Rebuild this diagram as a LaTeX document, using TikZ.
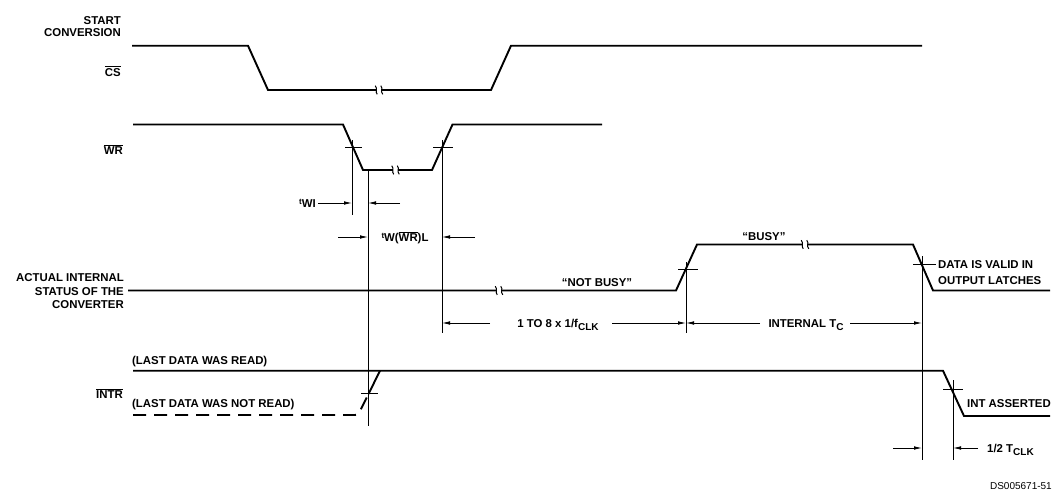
\documentclass[tikz,border=0pt]{standalone}
\usepackage{fontspec}
\setmainfont{Liberation Sans}
\usetikzlibrary{arrows.meta}
\tikzset{
  sig/.style={line width=1.9pt},
  refl/.style={line width=0.8pt},
  dimarrow/.style={line width=0.8pt,-{Latex[length=8pt,width=3.6pt]}},
  lbl/.style={font=\fontsize{11.4}{13}\selectfont\bfseries, inner sep=0pt},
  lblr/.style={lbl,anchor=base east},
  lbll/.style={lbl,anchor=base west},
  lblc/.style={lbl,anchor=base},
  brk/.pic={
    \fill[white] (-2.8,-5) rectangle (2.8,5);
    \draw[line width=1pt] (-3.8,-4.3) .. controls (-1.2,-1.6) and (-4.2,1.6) .. (-1.8,4.3);
    \draw[line width=1pt] (1.8,-4.3) .. controls (4.2,-1.6) and (1.2,1.6) .. (3.8,4.3);
  }
}
\newcommand{\ovl}[1]{$\overline{\mbox{#1}}$}
\newcommand{\smt}{\raisebox{2.4pt}{\fontsize{8}{9}\selectfont t}}
\newcommand{\subl}[1]{\raisebox{-3pt}{\fontsize{10}{11}\selectfont #1}}
\begin{document}
\begin{tikzpicture}[x=1pt,y=-1pt]
\useasboundingbox (0,0) rectangle (1062,498);

% ---------- signal names ----------
\node[lblr] (start) at (121,24) {START};
\node[lblr] (conv) at (121,36) {CONVERSION};
\node[lblr] (cs) at (121,76) {\ovl{CS}};
\node[lblr] (wr) at (123,154) {\ovl{WR}};
\node[lblr] (actual) at (124,281) {ACTUAL INTERNAL};
\node[lblr] (statusof) at (124,295) {STATUS OF THE};
\node[lblr] (converter) at (124,308) {CONVERTER};
\node[lbll] (wasread) at (132,364) {(LAST DATA WAS READ)};
\node[lblr] (intr) at (123,398) {\ovl{INTR}};
\node[lbll] (notread) at (132,407) {(LAST DATA WAS NOT READ)};

% ---------- CS ----------
\draw[sig] (132,45.7) -- (248,45.7) -- (268,90) -- (491,90) -- (511,45.7) -- (922,45.7);
\path (379,90) pic {brk};

% ---------- WR ----------
\draw[sig] (133,124.5) -- (343,124.5) -- (363,170) -- (432,170) -- (452.5,124.5) -- (602,124.5);
\path (395.5,170) pic {brk};

% ---------- status ----------
\draw[sig] (128,290.5) -- (676,290.5) -- (697,244.5) -- (913,244.5) -- (933,290.5) -- (1050,290.5);
\path (499,290.5) pic {brk};
\path (805,244.5) pic {brk};

% ---------- INTR ----------
\draw[sig] (133,370.7) -- (943,370.7) -- (964,416) -- (1050,416);
\draw[sig] (368.5,394) -- (380,370.7);
\draw[sig, dash pattern=on 13pt off 8pt] (133,415) -- (355,415) -- (358.5,414) -- (368.5,394);

% ---------- reference verticals ----------
\coordinate (v1t) at (352,140);  \coordinate (v1b) at (352,215);
\coordinate (v2t) at (368,170);  \coordinate (v2b) at (368,426);
\coordinate (v3t) at (442,140);  \coordinate (v3b) at (442,333);
\coordinate (v4t) at (686,262);  \coordinate (v4b) at (686,333);
\coordinate (v5t) at (922,256);  \coordinate (v5b) at (922,460);
\coordinate (v6t) at (953,380);  \coordinate (v6b) at (953,460);
\draw[refl] (v1t) -- (v1b);
\draw[refl] (v2t) -- (v2b);
\draw[refl] (v3t) -- (v3b);
\draw[refl] (v4t) -- (v4b);
\draw[refl] (v5t) -- (v5b);
\draw[refl] (v6t) -- (v6b);

% crosshair ticks
\draw[refl] (345,147) -- (362,147);
\draw[refl] (433,147) -- (453,147);
\draw[refl] (678,269) -- (698,269);
\draw[refl] (913,264) -- (936,264);
\draw[refl] (361,393) -- (378,393);
\draw[refl] (943,389) -- (963,389);

% ---------- timing dimensions ----------
\node[lbl, anchor=base east] (twi) at (316,207) {\smt WI};
\coordinate (a1) at (318,203);
\draw[dimarrow] (a1) -- (a1 -| v1t);
\coordinate (a2) at (400,203);
\draw[dimarrow] (a2) -- (a2 -| v2t);

\node[lblc] (twrl) at (405,241) {\smt W(\ovl{WR})L};
\coordinate (a3) at (338,237);
\draw[dimarrow] (a3) -- (a3 -| v2t);
\coordinate (a4) at (475,237);
\draw[dimarrow] (a4) -- (a4 -| v3t);

\node[lblc] (oneto8) at (558,327) {1 TO 8 x 1/f\subl{CLK}};
\coordinate (a5) at (490,323);
\draw[dimarrow] (a5) -- (a5 -| v3t);
\coordinate (a6) at (612,323);
\draw[dimarrow] (a6) -- (a6 -| v4t);

\node[lblc] (internal) at (806,327) {INTERNAL T\subl{C}};
\coordinate (a7) at (760,323);
\draw[dimarrow] (a7) -- (a7 -| v4t);
\coordinate (a8) at (850,323);
\draw[dimarrow] (a8) -- (a8 -| v5t);

\coordinate (a9) at (893,448);
\draw[dimarrow] (a9) -- (a9 -| v5t);
\coordinate (a10) at (978,448);
\draw[dimarrow] (a10) -- (a10 -| v6t);
\node[lbll] (half) at (987,452) {1/2 T\subl{CLK}};

% ---------- annotations ----------
\node[lblc] (notbusy) at (597,286) {“NOT BUSY”};
\node[lblc] (busy) at (764,240) {“BUSY”};
\node[lbll] (valid) at (938,268) {DATA IS VALID IN};
\node[lbll] (latches) at (938,284) {OUTPUT LATCHES};
\node[lbll] (intass) at (967,407) {INT ASSERTED};
\node[inner sep=0pt, anchor=base east, font=\fontsize{10}{12}\selectfont] (ds) at (1052,489) {DS005671-51};

\end{tikzpicture}
\end{document}
